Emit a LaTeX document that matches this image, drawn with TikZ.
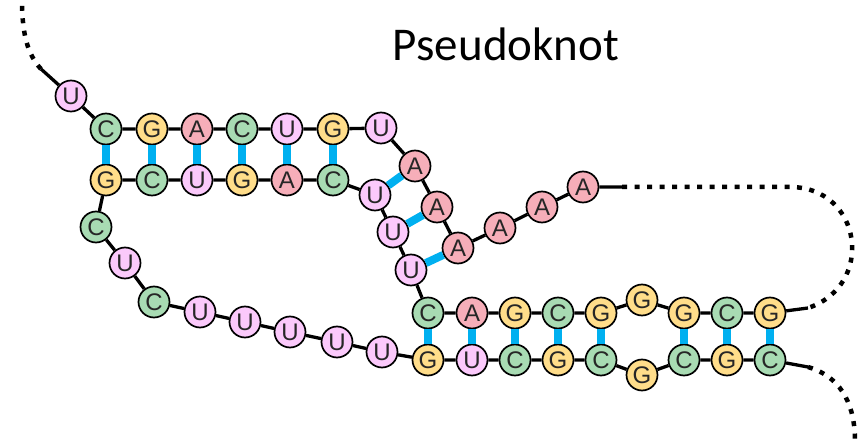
\documentclass[tikz,border=0pt]{standalone}
\usepackage{fontspec}
\setmainfont{Liberation Sans}
\newfontfamily\titlefont{Carlito}
\newfontfamily\ntfamily{Liberation Sans}
\definecolor{cA}{HTML}{F6AEB9}
\definecolor{cC}{HTML}{A8DBB3}
\definecolor{cG}{HTML}{FFDD8A}
\definecolor{cU}{HTML}{FBC9FB}
\definecolor{pairblue}{HTML}{00B0F0}
\tikzset{
  nt/.style={circle, draw=black, line width=1.7pt, minimum size=31pt, inner sep=0pt,
    font=\ntfamily\fontsize{24}{24}\selectfont, text=black!85},
  nA/.style={nt, fill=cA},
  nC/.style={nt, fill=cC},
  nG/.style={nt, fill=cG},
  nU/.style={nt, fill=cU},
  bb/.style={line width=3.3pt, black},
  pair/.style={line width=8pt, pairblue},
  dots/.style={line width=4.5pt, black, dash pattern=on 5pt off 7.5pt}
}
\begin{document}
\begin{tikzpicture}[x=1pt,y=-1pt]
\useasboundingbox (0,0) rectangle (863,441);
\node[font=\titlefont\fontsize{47}{47}\selectfont] (title) at (506,44) {Pseudoknot};
% first U
\node[nU] (u0) at (71,96) {U};
% top stem, top row
\node[nC] (t1) at (106,129) {C};
\node[nG] (t2) at (152,129) {G};
\node[nA] (t3) at (197,129) {A};
\node[nC] (t4) at (242,129) {C};
\node[nU] (t5) at (287,129) {U};
\node[nG] (t6) at (333,129) {G};
\node[nU] (t7) at (381,128) {U};
% top stem, bottom row
\node[nG] (b1) at (106,180) {G};
\node[nC] (b2) at (152,180) {C};
\node[nU] (b3) at (197,180) {U};
\node[nG] (b4) at (242,180) {G};
\node[nA] (b5) at (287,180) {A};
\node[nC] (b6) at (333,180) {C};
% pseudoknot helix
\node[nA] (p1) at (415,166) {A};
\node[nA] (p2) at (437,207) {A};
\node[nA] (p3) at (458,248) {A};
\node[nU] (q1) at (375,195) {U};
\node[nU] (q2) at (393,232) {U};
\node[nU] (q3) at (411,270) {U};
% A tail
\node[nA] (a4) at (500,228) {A};
\node[nA] (a5) at (542,207) {A};
\node[nA] (a6) at (583,187) {A};
% bottom stem, top row
\node[nC] (s1) at (428,313) {C};
\node[nA] (s2) at (472,313) {A};
\node[nG] (s3) at (515,313) {G};
\node[nC] (s4) at (558,313) {C};
\node[nG] (s5) at (601,313) {G};
\node[nG] (s6) at (642,300) {G};
\node[nG] (s7) at (684,313) {G};
\node[nC] (s8) at (727,313) {C};
\node[nG] (s9) at (770,313) {G};
% bottom stem, bottom row
\node[nG] (r1) at (428,360) {G};
\node[nU] (r2) at (472,360) {U};
\node[nC] (r3) at (515,360) {C};
\node[nG] (r4) at (558,360) {G};
\node[nC] (r5) at (601,360) {C};
\node[nG] (r6) at (642,375) {G};
\node[nC] (r7) at (684,360) {C};
\node[nG] (r8) at (727,360) {G};
\node[nC] (r9) at (770,360) {C};
% left loop
\node[nC] (l1) at (96,227) {C};
\node[nU] (l2) at (125,263) {U};
\node[nC] (l3) at (154,302) {C};
\node[nU] (l4) at (200,312) {U};
\node[nU] (l5) at (245,322) {U};
\node[nU] (l6) at (290,332) {U};
\node[nU] (l7) at (337,342) {U};
\node[nU] (l8) at (382,352) {U};
% free ends
\coordinate (e0) at (41,69);
\coordinate (e1) at (622,187);
\coordinate (e2) at (790,187);
\coordinate (e3) at (808,308);
\coordinate (e4) at (808,367);
% backbone
\draw[bb] (e0) -- (u0) -- (t1) -- (t2) -- (t3) -- (t4) -- (t5) -- (t6) -- (t7)
  -- (p1) -- (p2) -- (p3) -- (a4) -- (a5) -- (a6) -- (e1);
\draw[bb] (e3) -- (s9) -- (s8) -- (s7) -- (s6) -- (s5) -- (s4) -- (s3) -- (s2) -- (s1)
  -- (q3) -- (q2) -- (q1) -- (b6) -- (b5) -- (b4) -- (b3) -- (b2) -- (b1)
  -- (l1) -- (l2) -- (l3) -- (l4) -- (l5) -- (l6) -- (l7) -- (l8)
  -- (r1) -- (r2) -- (r3) -- (r4) -- (r5) -- (r6) -- (r7) -- (r8) -- (r9) -- (e4);
% dotted ends
\draw[dots] (e0) .. controls (28,55) and (22,35) .. (22,0);
\draw[dots] (e1) -- (e2) .. controls (862,187) and (876,285) .. (e3);
\draw[dots] (e4) .. controls (845,378) and (855,410) .. (855,441);
% base pairs
\foreach \i in {1,...,6} \draw[pair] (t\i) -- (b\i);
\foreach \i in {1,2,3} \draw[pair] (q\i) -- (p\i);
\foreach \i in {1,2,3,4,5,7,8,9} \draw[pair] (s\i) -- (r\i);
\end{tikzpicture}
\end{document}
